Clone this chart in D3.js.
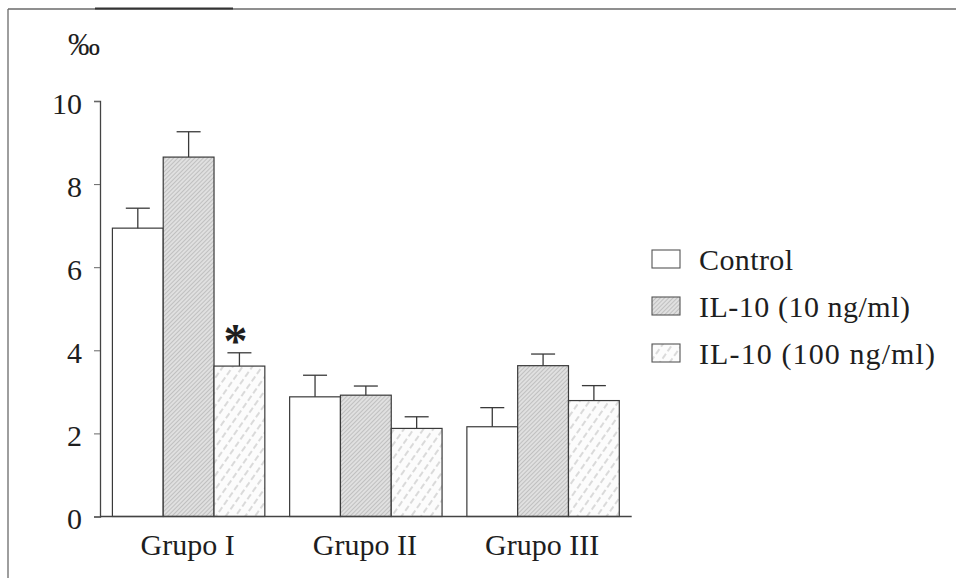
<!DOCTYPE html>
<html>
<head>
<meta charset="utf-8">
<script src="https://cdn.jsdelivr.net/npm/d3@7"></script>
<style>
  html, body { margin: 0; padding: 0; background: #fff; }
  svg { display: block; }
  svg text { font-family: 'Liberation Serif', 'Tinos', 'Times New Roman', 'Nimbus Roman', 'DejaVu Serif', serif !important; fill: #1e1e1e; }
</style>
</head>
<body>
<svg id="chart" width="956" height="578"></svg>
<script>
// Groups and treatment series
const groups = ["Grupo I", "Grupo II", "Grupo III"];
const seriesNames = ["Control", "IL-10 (10 ng/ml)", "IL-10 (100 ng/ml)"];

// Mean values (‰) per series, one entry per group
const controlValues = [6.94, 2.88, 2.16];
const il10LowValues = [8.65, 2.92, 3.63];
const il10HighValues = [3.62, 2.12, 2.79];

// Error (upper bar) per series
const controlErrors = [0.48, 0.52, 0.46];
const il10LowErrors = [0.61, 0.22, 0.28];
const il10HighErrors = [0.32, 0.28, 0.36];

// Significance marks: [group, series]
const significant = [["Grupo I", "IL-10 (100 ng/ml)"]];

const yTicks = [0, 2, 4, 6, 8, 10];
const yUnit = "‰";

const serif = "'Liberation Serif', 'Tinos', 'Times New Roman', 'DejaVu Serif', serif";
// Set widths of the legend labels (typeset spacing)
const legendTextWidth = { "Control": 94, "IL-10 (10 ng/ml)": 211, "IL-10 (100 ng/ml)": 236 };

const valuesBySeries = [controlValues, il10LowValues, il10HighValues];
const errorsBySeries = [controlErrors, il10LowErrors, il10HighErrors];

const data = [];
groups.forEach((g, gi) => {
  seriesNames.forEach((s, si) => {
    data.push({ group: g, series: s, value: valuesBySeries[si][gi], err: errorsBySeries[si][gi] });
  });
});

const svg = d3.select("#chart").attr("font-family", serif);

// Fill patterns for the three series
const defs = svg.append("defs");
const hatchFine = defs.append("pattern")
  .attr("id", "hatchFine").attr("patternUnits", "userSpaceOnUse")
  .attr("width", 3).attr("height", 3)
  .attr("patternTransform", "rotate(45)");
hatchFine.append("rect").attr("width", 3).attr("height", 3).attr("fill", "#e0e0e0");
hatchFine.append("line").attr("x1", 0.5).attr("y1", 0).attr("x2", 0.5).attr("y2", 3)
  .attr("stroke", "#b8b8b8").attr("stroke-width", 0.8);

const hatchWide = defs.append("pattern")
  .attr("id", "hatchWide").attr("patternUnits", "userSpaceOnUse")
  .attr("width", 8).attr("height", 9)
  .attr("patternTransform", "rotate(35)");
hatchWide.append("rect").attr("width", 8).attr("height", 9).attr("fill", "#fcfcfc");
hatchWide.append("line").attr("x1", 1).attr("y1", 0).attr("x2", 1).attr("y2", 9)
  .attr("stroke", "#b8b8b8").attr("stroke-width", 1).attr("stroke-dasharray", "6,3");

const fillOf = {
  "Control": "#ffffff",
  "IL-10 (10 ng/ml)": "url(#hatchFine)",
  "IL-10 (100 ng/ml)": "url(#hatchWide)"
};

// Frame lines
svg.append("line").attr("x1", 8).attr("y1", 9).attr("x2", 956).attr("y2", 9)
  .attr("stroke", "#6a6a6a").attr("stroke-width", 1.3);
svg.append("line").attr("x1", 8).attr("y1", 9).attr("x2", 8).attr("y2", 578)
  .attr("stroke", "#6a6a6a").attr("stroke-width", 1.3);
svg.append("line").attr("x1", 95).attr("y1", 8.5).attr("x2", 233).attr("y2", 8.5)
  .attr("stroke", "#333").attr("stroke-width", 2.2);

// Scales
const x0 = d3.scaleBand().domain(groups).range([100, 631.7]).paddingInner(0.14).paddingOuter(0.07);
const x1 = d3.scaleBand().domain(seriesNames).range([0, x0.bandwidth()]);
const y = d3.scaleLinear().domain([0, 10]).range([516.5, 101]);

// Y axis
const yAxis = svg.append("g").attr("transform", "translate(100,0)")
  .call(d3.axisLeft(y).tickValues(yTicks).tickSize(6).tickPadding(12).tickFormat(d3.format("d")));
yAxis.attr("font-family", serif);
yAxis.select(".domain").attr("stroke", "#444").attr("stroke-width", 1.3);
yAxis.selectAll(".tick line").attr("stroke", "#666").attr("stroke-width", 1);
yAxis.selectAll(".tick text").attr("font-size", 30).attr("dy", "0.4em")
  .attr("fill", "#1e1e1e");

svg.append("text").attr("x", 84).attr("y", 55).attr("text-anchor", "middle")
  .attr("font-size", 32).text(yUnit);

// Bars
const barG = svg.append("g");
barG.selectAll("rect").data(data).join("rect")
  .attr("x", d => x0(d.group) + x1(d.series))
  .attr("y", d => y(d.value))
  .attr("width", x1.bandwidth())
  .attr("height", d => y(0) - y(d.value))
  .attr("fill", d => fillOf[d.series])
  .attr("stroke", "#3a3a3a")
  .attr("stroke-width", 1.2);

// Error bars (upper only)
const errG = svg.append("g").attr("stroke", "#3a3a3a").attr("stroke-width", 1.3);
data.forEach(d => {
  const cx = x0(d.group) + x1(d.series) + x1.bandwidth() / 2;
  errG.append("line").attr("x1", cx).attr("x2", cx)
    .attr("y1", y(d.value)).attr("y2", y(d.value + d.err));
  errG.append("line").attr("x1", cx - 12).attr("x2", cx + 12)
    .attr("y1", y(d.value + d.err)).attr("y2", y(d.value + d.err));
});

// Significance asterisks
significant.forEach(([g, s]) => {
  const d = data.find(e => e.group === g && e.series === s);
  const cx = x0(g) + x1(s) + x1.bandwidth() / 2 - 4;
  svg.append("text").attr("x", cx).attr("y", y(d.value + d.err) + 4)
    .attr("text-anchor", "middle").attr("font-size", 48).attr("font-weight", "bold")
    .text("*");
});

// X axis
svg.append("line").attr("x1", 100).attr("x2", 631.7).attr("y1", y(0)).attr("y2", y(0))
  .attr("stroke", "#444").attr("stroke-width", 1.4);
svg.append("g").selectAll("text").data(groups).join("text")
  .attr("x", d => x0(d) + x0.bandwidth() / 2 - 1)
  .attr("y", 555)
  .attr("text-anchor", "middle")
  .attr("font-size", 30)
  .text(d => d);

// Legend
const legend = svg.append("g").attr("transform", "translate(652,250)");
const row = legend.selectAll("g").data(seriesNames).join("g")
  .attr("transform", (d, i) => `translate(0,${i * 47})`);
row.append("rect").attr("width", 28).attr("height", 18)
  .attr("fill", d => fillOf[d]).attr("stroke", "#555").attr("stroke-width", 1.1);
row.append("text").attr("x", 47).attr("y", 20).attr("font-size", 30)
  .attr("textLength", d => legendTextWidth[d]).attr("lengthAdjust", "spacing")
  .text(d => d);
</script>
</body>
</html>
